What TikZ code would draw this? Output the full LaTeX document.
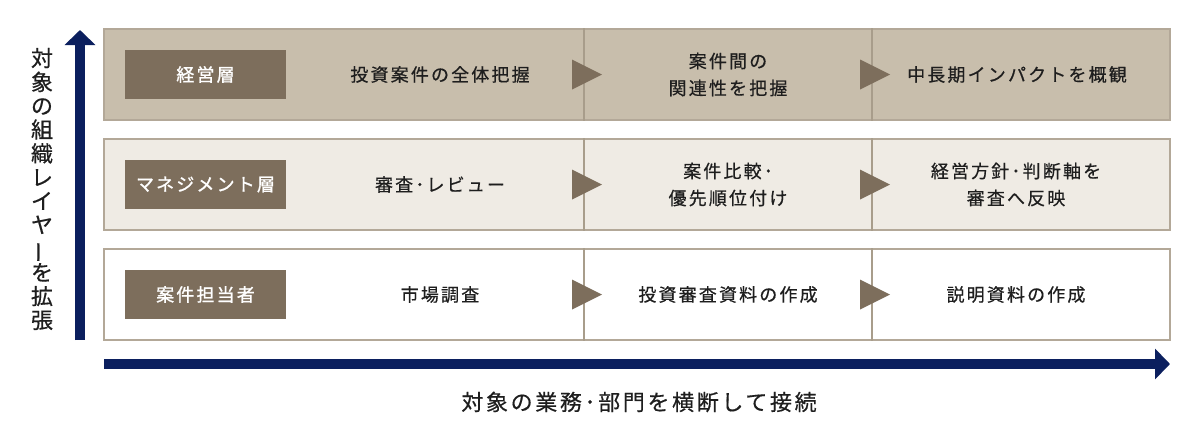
\documentclass[tikz,border=0pt]{standalone}
\usepackage{fontspec}
\usepackage{graphicx}
\setmainfont{Noto Sans CJK JP}
\newfontfamily\jp[LetterSpace=12, FakeBold=0.5]{Noto Sans CJK JP}
\newfontfamily\jplabel[LetterSpace=12, FakeBold=1.2]{Noto Sans CJK JP}
\newfontfamily\jpaxis[FakeBold=0.5]{Noto Sans CJK JP}
\usetikzlibrary{arrows.meta}
\definecolor{axisblue}{HTML}{0B1F5E}
\definecolor{rowA}{HTML}{C8BEAC}
\definecolor{rowB}{HTML}{EFEBE4}
\definecolor{rowborder}{HTML}{B3A898}
\definecolor{divline}{HTML}{A89D8B}
\definecolor{labelfill}{HTML}{7D6E5C}
\definecolor{txtcol}{HTML}{1E1E1E}
\tikzset{
  rowbox/.style={draw=rowborder, line width=1.3pt, minimum width=1066pt, minimum height=91pt, inner sep=0pt},
  divider/.style={draw=divline, line width=1.2pt},
  labelbox/.style={fill=labelfill, text=white, minimum width=161pt, minimum height=49pt, inner sep=0pt, font=\jplabel\fontsize{18}{27}\selectfont},
  celltxt/.style={text=txtcol, align=center, inner sep=0pt, font=\jp\fontsize{18}{27}\selectfont},
  stepmark/.style={fill=labelfill, draw=none},
  axisline/.style={draw=axisblue, line width=10pt, -{Triangle[length=15pt,width=30pt]}},
  axislabel/.style={text=txtcol, align=center, inner sep=0pt},
}
\begin{document}
\begin{tikzpicture}[x=1pt,y=-1pt]
\useasboundingbox (0,0) rectangle (1200,445);
% rows
\node[rowbox, fill=rowA] (r1) at (637,74.5) {};
\node[rowbox, fill=rowB] (r2) at (637,184.5) {};
\node[rowbox, fill=white] (r3) at (637,294.5) {};
\foreach \r in {r1,r2,r3}{
  \draw[divider] (\r.north -| 584,0) -- (\r.south -| 584,0);
  \draw[divider] (\r.north -| 872,0) -- (\r.south -| 872,0);
}
% step marks
\foreach \y in {74.5,184.5,294.5}{
  \fill[stepmark] (572,\y-15) -- (602,\y) -- (572,\y+15) -- cycle;
  \fill[stepmark] (860,\y-15) -- (890,\y) -- (860,\y+15) -- cycle;
}
% labels
\node[labelbox] (l1) at (205.5,74.5) {経営層};
\node[labelbox] (l2) at (205.5,184.5) {マネジメント層};
\node[labelbox] (l3) at (205.5,294.5) {案件担当者};
% cell texts
\node[celltxt] (c11) at (440,74.5) {投資案件の全体把握};
\node[celltxt] (c12) at (728,74.5) {案件間の\\関連性を把握};
\node[celltxt] (c13) at (1017,74.5) {中長期インパクトを概観};
\node[celltxt] (c21) at (440,184.5) {審査･レビュー};
\node[celltxt] (c22) at (728,184.5) {案件比較･\\優先順位付け};
\node[celltxt] (c23) at (1016,184.5) {経営方針･判断軸を\\審査へ反映};
\node[celltxt] (c31) at (440,294.5) {市場調査};
\node[celltxt] (c32) at (728,294.5) {投資審査資料の作成};
\node[celltxt] (c33) at (1016,294.5) {説明資料の作成};
% axes
\coordinate (vb) at (80,340);
\coordinate (vt) at (80,30);
\draw[axisline] (vb) -- (vt);
\coordinate (hl) at (104,364);
\coordinate (hr) at (1170,364);
\draw[axisline, line width=9.5pt] (hl) -- (hr);
% axis labels
\node[axislabel, font=\jpaxis\fontsize{22}{23.8}\selectfont] (ylab) at (42,189) {対\\象\\の\\組\\織\\レ\\イ\\ヤ\\\rotatebox[origin=c]{90}{ー}\\を\\拡\\張};
\node[axislabel, font=\jp\fontsize{22}{25}\selectfont] (xlab) at (639,402) {対象の業務･部門を横断して接続};
\end{tikzpicture}
\end{document}
